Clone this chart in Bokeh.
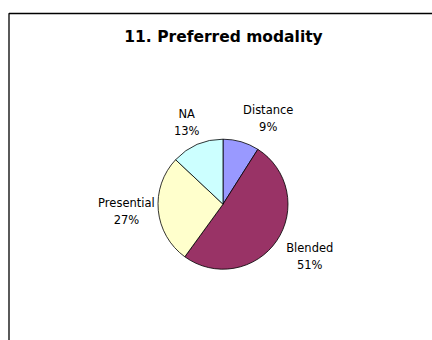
import math
from bokeh.plotting import figure
from bokeh.models import Range1d, ColumnDataSource
from bokeh.core.properties import value
from bokeh.embed import file_html
from bokeh.resources import INLINE

# ---- data ----
title_text = "11. Preferred modality"
categories = ["Distance", "Blended", "Presential", "NA"]
percents = [9, 51, 27, 13]
colors = ["#9999FF", "#993366", "#FFFFCC", "#CCFFFF"]

# ---- layout / style ----
W, H = 432, 340
CX, CY, R = 222.5, 136.3, 65
LABEL_R = 94
nudges = {"Distance": (19, -4.5), "Blended": (9, 0.5), "Presential": (-3, 1.5), "NA": (1, -5)}
LINE_GAP = 8.5

p = figure(width=W, height=H, output_backend="svg", toolbar_location=None,
           x_range=Range1d(0, W), y_range=Range1d(0, H), min_border=0)
p.axis.visible = False
p.grid.visible = False
p.outline_line_color = None
p.background_fill_color = "white"
p.border_fill_color = "white"

# frame of the chart area (extends beyond the visible window)
p.line(x=[8.5, 8.5, W + 20], y=[-20, 327, 327], line_color="black", line_width=1.3)

total = sum(percents)
starts, ends, mids = [], [], []
cum = 0.0
for v in percents:
    a0 = math.pi / 2 - 2 * math.pi * cum / total
    cum += v
    a1 = math.pi / 2 - 2 * math.pi * cum / total
    starts.append(a0)
    ends.append(a1)
    mids.append((a0 + a1) / 2)

src = ColumnDataSource(dict(start=starts, end=ends, color=colors))
p.wedge(x=CX, y=CY, radius=R, start_angle="start", end_angle="end", direction="clock",
        fill_color="color", line_color="black", line_width=0.8, source=src)

nx, ny, px, py, names, pcts = [], [], [], [], [], []
for c, v, m in zip(categories, percents, mids):
    dx, dy = nudges[c]
    bx = CX + LABEL_R * math.cos(m) + dx
    by = CY + LABEL_R * math.sin(m) + dy
    nx.append(bx); ny.append(by + LINE_GAP)
    px.append(bx); py.append(by - LINE_GAP)
    names.append(c); pcts.append(f"{v}%")

p.text(x=nx, y=ny, text=names, text_align="center", text_baseline="middle",
       text_font=value("DejaVu Sans"), text_font_size="11.5px", text_color="black")
p.text(x=px, y=py, text=pcts, text_align="center", text_baseline="middle",
       text_font=value("DejaVu Sans"), text_font_size="11.5px", text_color="black")

p.text(x=[223], y=[303.3], text=[title_text], text_align="center", text_baseline="middle",
       text_font=value("DejaVu Sans"), text_font_size="15.5px", text_font_style="bold",
       text_color="black")

open("out.html", "w").write(file_html(p, INLINE))
